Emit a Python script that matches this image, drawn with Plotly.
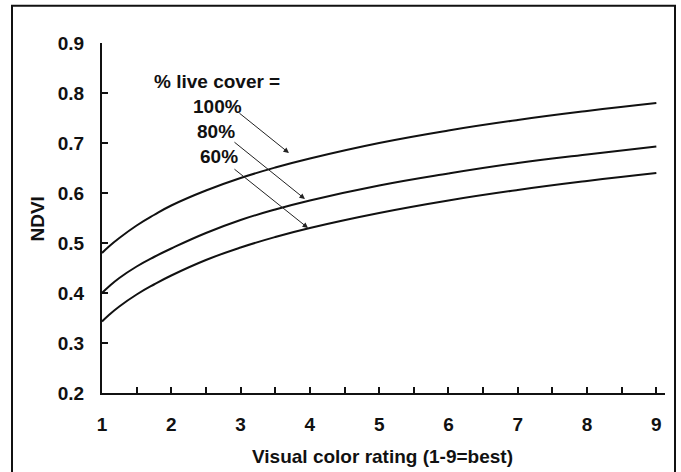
import plotly.graph_objects as go

# ---- data ----
rating = [1, 1.1, 1.25, 1.5, 1.75, 2, 2.5, 3, 3.5, 4, 5, 6, 7, 8, 9]
ndvi_100 = [0.480, 0.493, 0.510, 0.535, 0.556, 0.575, 0.605, 0.630, 0.651, 0.669, 0.700, 0.725, 0.746, 0.764, 0.780]
ndvi_80 = [0.400, 0.413, 0.430, 0.453, 0.472, 0.489, 0.520, 0.546, 0.567, 0.585, 0.615, 0.639, 0.660, 0.677, 0.693]
ndvi_60 = [0.343, 0.356, 0.373, 0.397, 0.417, 0.435, 0.466, 0.491, 0.512, 0.530, 0.560, 0.585, 0.606, 0.624, 0.640]
series_labels = ["100%", "80%", "60%"]
x_ticks = [1, 2, 3, 4, 5, 6, 7, 8, 9]
y_ticks = [0.2, 0.3, 0.4, 0.5, 0.6, 0.7, 0.8, 0.9]

FONT = "Liberation Sans, Arial, Helvetica, sans-serif"
FS = 19

fig = go.Figure()
for vals, name in zip([ndvi_100, ndvi_80, ndvi_60], series_labels):
    fig.add_trace(go.Scatter(x=rating, y=vals, mode="lines", name=name,
                             line=dict(color="#111111", width=2, shape="spline", smoothing=1.3),
                             showlegend=False, hoverinfo="x+y"))

# label block and arrows
label_x = 2.66
annotations = [
    dict(x=label_x, y=0.8226, text="<b>% live cover =</b>"),
    dict(x=label_x, y=0.7726, text="<b>100%</b>"),
    dict(x=2.645, y=0.7226, text="<b>80%</b>"),
    dict(x=2.688, y=0.6726, text="<b>60%</b>"),
]
for a in annotations:
    a.update(xref="x", yref="y", showarrow=False, xanchor="center", yanchor="middle",
             font=dict(family=FONT, size=FS, color="#111111"))

arrows = [
    ((3.698, 0.680), (2.962, 0.762)),
    ((3.929, 0.588), (2.890, 0.704)),
    ((3.973, 0.530), (2.890, 0.650)),
]
for (tx, ty), (sx, sy) in arrows:
    annotations.append(dict(x=tx, y=ty, ax=sx, ay=sy, xref="x", yref="y", axref="x", ayref="y",
                            text="", showarrow=True, arrowhead=2, arrowsize=1.1, arrowwidth=1,
                            arrowcolor="#222222", standoff=0, startstandoff=0))

# axis titles
annotations.append(dict(x=(382.5 - 102) / 563, y=(393 - 456.5) / 350, xref="paper", yref="paper",
                        text="<b>Visual color rating (1-9=best)</b>", showarrow=False,
                        xanchor="center", yanchor="middle",
                        font=dict(family=FONT, size=FS, color="#111111")))
annotations.append(dict(x=(36.5 - 102) / 563, y=(393 - 219) / 350, xref="paper", yref="paper",
                        text="<b>NDVI</b>", showarrow=False, textangle=-90,
                        xanchor="center", yanchor="middle",
                        font=dict(family=FONT, size=FS, color="#111111")))

fig.update_layout(
    width=681, height=472, autosize=False,
    margin=dict(l=102, r=16, t=43, b=79, pad=0),
    paper_bgcolor="white", plot_bgcolor="white",
    annotations=annotations,
    shapes=[dict(type="rect", xref="paper", yref="paper",
                 x0=(12 - 102) / 563, x1=(675 - 102) / 563,
                 y0=(393 - 476) / 350, y1=(393 - 5.7) / 350,
                 line=dict(color="#111111", width=2), fillcolor="rgba(0,0,0,0)", layer="below")],
)

fig.update_xaxes(range=[1, 9.125], showgrid=False, zeroline=False,
                 showline=True, linecolor="#111111", linewidth=2,
                 tickmode="array", tickvals=x_ticks, ticktext=[str(v) for v in x_ticks],
                 ticks="inside", ticklen=6, tickwidth=1.5, tickcolor="#111111",
                 minor=dict(dtick=0.5, tick0=1, ticks="inside", ticklen=6, tickwidth=1.5, tickcolor="#111111"),
                 tickfont=dict(family=FONT, size=FS, color="#111111", weight="bold"),
                 ticklabelstandoff=13)
fig.update_yaxes(range=[0.2, 0.9], showgrid=False, zeroline=False,
                 showline=True, linecolor="#111111", linewidth=2,
                 tickmode="array", tickvals=y_ticks, ticktext=[f"{v:.1f}" for v in y_ticks],
                 ticks="inside", ticklen=6, tickwidth=1.5, tickcolor="#111111",
                 tickfont=dict(family=FONT, size=FS, color="#111111", weight="bold"),
                 ticklabelstandoff=12)

fig.write_html("out.html")
